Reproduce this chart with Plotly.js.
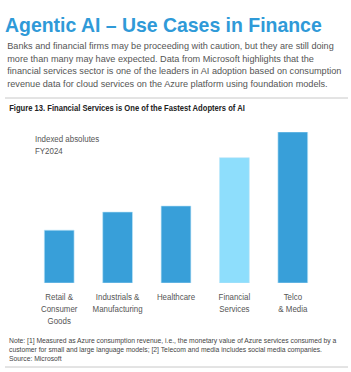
<!DOCTYPE html>
<html><head><meta charset="utf-8">
<script src="https://cdn.plot.ly/plotly-3.0.1.min.js"></script>
<style>html,body{margin:0;padding:0;background:#fff}#chart{width:351px;height:372px}</style>
</head><body><div id="chart"></div>
<script>
const categories = ["Retail &<br>Consumer<br>Goods", "Industrials &<br>Manufacturing", "Healthcare", "Financial<br>Services", "Telco<br>& Media"];
const values = [35, 47, 51, 83, 100];
const barColors = ["#389FD9", "#389FD9", "#389FD9", "#8EDEFC", "#389FD9"];
const bodyLines = [
  "Banks and financial firms may be proceeding with caution, but they are still doing",
  "more than many may have expected. Data from Microsoft highlights that the",
  "financial services sector is one of the leaders in AI adoption based on consumption",
  "revenue data for cloud services on the Azure platform using foundation models."
];
const noteLines = [
  "Note: [1] Measured as Azure consumption revenue, i.e., the monetary value of Azure services consumed by a",
  "customer for small and large language models; [2] Telecom and media includes social media companies.",
  "Source: Microsoft"
];
const W = 351, H = 372, L = 30, R = 29, T = 132, B = 89;
const px = x => (x - L) / (W - L - R);
const py = y => (H - B - y) / (H - T - B);
const font = "Liberation Sans, Arial, sans-serif";
const ann = [];
bodyLines.forEach((t, i) => ann.push({text: t, xref: 'paper', yref: 'paper', x: px(5), y: py(45.7 + i * 12.6), xanchor: 'left', yanchor: 'middle', showarrow: false, font: {family: font, size: 9.6, color: '#555555'}}));
ann.push({text: "<b>Figure 13. Financial Services is One of the Fastest Adopters of AI</b>", xref: 'paper', yref: 'paper', x: px(7), y: py(107.5), xanchor: 'left', yanchor: 'middle', showarrow: false, font: {family: font, size: 9, color: '#222222'}});
ann.push({text: "Indexed absolutes<br>FY2024", xref: 'paper', yref: 'paper', x: px(33), y: py(144.5), xanchor: 'left', yanchor: 'middle', align: 'left', showarrow: false, font: {family: font, size: 9, color: '#555555'}});
noteLines.forEach((t, i) => ann.push({text: t, xref: 'paper', yref: 'paper', x: px(7), y: py(340.5 + i * 9.2), xanchor: 'left', yanchor: 'middle', showarrow: false, font: {family: font, size: 7.8, color: '#444444'}}));
const data = [{type: 'bar', x: categories, y: values, marker: {color: barColors, line: {color: '#BFE6F8', width: 0.6}}, width: 0.51, hoverinfo: 'none'}];
const layout = {
  width: W, height: H, margin: {l: L, r: R, t: T, b: B}, paper_bgcolor: '#fff', plot_bgcolor: '#fff', showlegend: false,
  title: {text: "<b>Agentic AI – Use Cases in Finance</b>", x: 5 / W, xanchor: 'left', xref: 'container', y: 1 - 25 / H, yanchor: 'middle', yref: 'container', font: {family: font, size: 21, color: '#2F9AD8'}},
  xaxis: {tickfont: {family: font, size: 9.2, color: '#555555'}, showline: false, ticks: '', ticklabelstandoff: 7, fixedrange: true},
  yaxis: {range: [0, 100], visible: false, showgrid: false, zeroline: false, fixedrange: true},
  annotations: ann,
  shapes: [
    {type: 'line', xref: 'paper', yref: 'paper', x0: px(5), x1: px(348), y0: py(98), y1: py(98), line: {color: '#C8C8C8', width: 1}},
    {type: 'line', xref: 'paper', yref: 'paper', x0: px(5), x1: px(348), y0: py(367), y1: py(367), line: {color: '#C8C8C8', width: 1}}
  ]
};
// horizontal condensing of text to mimic the narrow typeface of the reference
function squeeze(el, k, mode) {
  const bb = el.getBBox();
  const ox = mode === 'center' ? bb.x + bb.width / 2 : bb.x;
  const tr = el.getAttribute('transform') || '';
  el.setAttribute('transform', tr + ' translate(' + ox + ',0) scale(' + k + ',1) translate(' + (-ox) + ',0)');
}
function fitWidth(el, target) {
  const k = target / el.getBBox().width;
  squeeze(el, k, 'left');
  return k;
}
Plotly.newPlot('chart', data, layout, {displayModeBar: false, staticPlot: true}).then(gd => {
  const title = gd.querySelector('.gtitle');
  if (title) fitWidth(title, 317);
  const annTexts = Array.from(gd.querySelectorAll('g.annotation text.annotation-text'));
  const nb = bodyLines.length;
  const kb = fitWidth(annTexts[0], 327);
  for (let i = 1; i < nb; i++) squeeze(annTexts[i], kb, 'left');
  fitWidth(annTexts[nb], 236);
  squeeze(annTexts[nb + 1], 0.88, 'left');
  const kn = fitWidth(annTexts[nb + 2], 328);
  for (let i = nb + 3; i < annTexts.length; i++) squeeze(annTexts[i], kn, 'left');
  gd.querySelectorAll('.xtick text').forEach(t => squeeze(t, 0.86, 'center'));
});
</script></body></html>
